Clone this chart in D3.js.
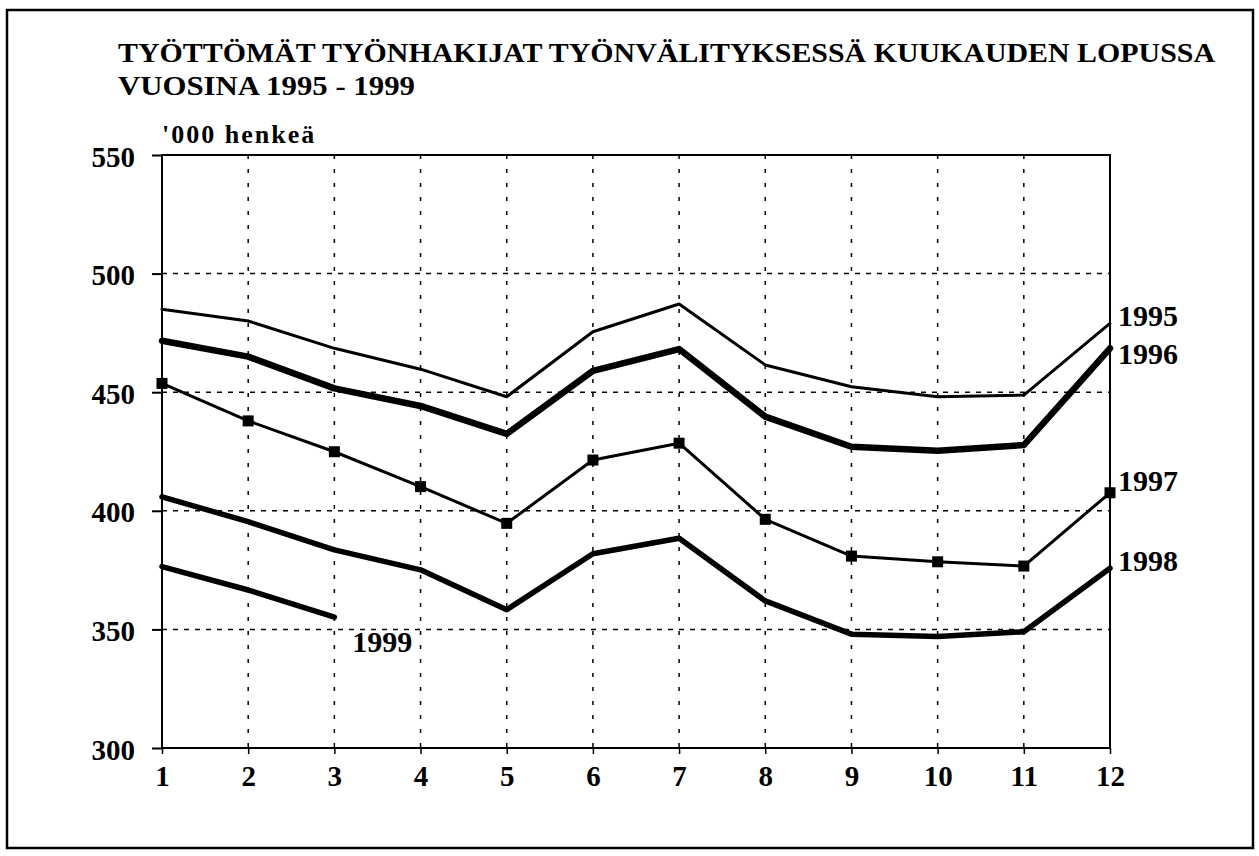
<!DOCTYPE html>
<html>
<head>
<meta charset="utf-8">
<script src="https://cdn.jsdelivr.net/npm/d3@7"></script>
<style>
  html, body { margin: 0; padding: 0; background: #fff; }
  svg { display: block; }
  text { font-family: "Liberation Serif", "Times New Roman", serif; font-weight: bold; fill: #000; }
</style>
</head>
<body>
<svg id="chart" width="1259" height="856"></svg>
<script>
// ---- data ----
const titleLines = ["TYÖTTÖMÄT TYÖNHAKIJAT TYÖNVÄLITYKSESSÄ KUUKAUDEN LOPUSSA", "VUOSINA 1995 - 1999"];
const unitLabel = "'000 henkeä";
const months = [1, 2, 3, 4, 5, 6, 7, 8, 9, 10, 11, 12];
const yTicks = [300, 350, 400, 450, 500, 550];
const s1995 = [485, 480, 468.5, 459.7, 448.1, 475.5, 487.2, 461.5, 452.3, 448.1, 448.8, 479];
const s1996 = [471.7, 465, 451.6, 444.2, 432.4, 459, 468.2, 439.7, 427, 425.3, 427.7, 468.5];
const s1997 = [453.7, 437.9, 424.9, 410.2, 394.7, 421.4, 428.5, 396.4, 380.9, 378.5, 376.7, 407.6];
const s1998 = [405.9, 395.4, 383.5, 375.1, 358.3, 381.9, 388.4, 362, 348, 347, 349, 375.8];
const s1999 = [376.5, 366.6, 355.2];
const seriesNames = ["1995", "1996", "1997", "1998", "1999"];

// ---- layout / style ----
const W = 1259, H = 856;
const plot = { left: 162, right: 1110, top: 155, bottom: 748 };
const styles = {
  "1995": { width: 3, marker: false, ldx: 8, ldy: -4 },
  "1996": { width: 6.5, marker: false, ldx: 8, ldy: 9 },
  "1997": { width: 3, marker: true, ldx: 8, ldy: -9 },
  "1998": { width: 5.5, marker: false, ldx: 8, ldy: -4 },
  "1999": { width: 5.5, marker: false, ldx: 18, ldy: 28 }
};

const svg = d3.select("#chart");
svg.append("rect").attr("x", 0).attr("y", 0).attr("width", W).attr("height", H).attr("fill", "#fff");
// outer frame
svg.append("rect").attr("x", 7).attr("y", 10).attr("width", 1246).attr("height", 838)
  .attr("fill", "none").attr("stroke", "#000").attr("stroke-width", 2.5);

// title
svg.append("text").attr("x", 118).attr("y", 62).attr("font-size", 28).text(titleLines[0])
  .attr("textLength", 1097).attr("lengthAdjust", "spacingAndGlyphs");
svg.append("text").attr("x", 118).attr("y", 95).attr("font-size", 28).text(titleLines[1])
  .attr("textLength", 297).attr("lengthAdjust", "spacingAndGlyphs");

// unit label
svg.append("text").attr("x", 162).attr("y", 143).attr("font-size", 26)
  .attr("letter-spacing", 2).text(unitLabel);

const x = d3.scaleLinear().domain([1, 12]).range([plot.left, plot.right]);
const y = d3.scaleLinear().domain([300, 550]).range([plot.bottom, plot.top]);

// grid
const g = svg.append("g");
g.selectAll("line.hg").data(yTicks.filter(v => v > 300 && v < 550)).join("line")
  .attr("x1", plot.left).attr("x2", plot.right)
  .attr("y1", d => y(d)).attr("y2", d => y(d))
  .attr("stroke", "#000").attr("stroke-width", 1.5).attr("stroke-dasharray", "5,6");
g.selectAll("line.vg").data(months.filter(m => m > 1 && m < 12)).join("line")
  .attr("x1", d => x(d)).attr("x2", d => x(d))
  .attr("y1", plot.top).attr("y2", plot.bottom)
  .attr("stroke", "#000").attr("stroke-width", 1.5).attr("stroke-dasharray", "4,10");

// plot box
svg.append("rect").attr("x", plot.left).attr("y", plot.top)
  .attr("width", plot.right - plot.left).attr("height", plot.bottom - plot.top)
  .attr("fill", "none").attr("stroke", "#000").attr("stroke-width", 2);

// axes
const yAxis = d3.axisLeft(y).tickValues(yTicks).tickSize(10).tickPadding(17);
const yG = svg.append("g").attr("transform", `translate(${plot.left},0)`).call(yAxis);
yG.select(".domain").remove();
yG.selectAll(".tick line").attr("stroke", "#000").attr("stroke-width", 2);
yG.selectAll(".tick text").attr("font-size", 29).attr("font-family", "Liberation Serif")
  .attr("font-weight", "bold").attr("fill", "#000").attr("dy", "0.38em");

const xAxis = d3.axisBottom(x).tickValues(months).tickFormat(d3.format("d")).tickSize(6).tickPadding(11);
const xG = svg.append("g").attr("transform", `translate(0,${plot.bottom})`).call(xAxis);
xG.select(".domain").remove();
xG.selectAll(".tick line").attr("stroke", "#000").attr("stroke-width", 1.5);
xG.selectAll(".tick text").attr("font-size", 29).attr("font-family", "Liberation Serif")
  .attr("font-weight", "bold").attr("fill", "#000").attr("dy", "0.71em");

// series
const allSeries = [s1995, s1996, s1997, s1998, s1999];
const line = d3.line().x((d, i) => x(months[i])).y(d => y(d));
allSeries.forEach((vals, k) => {
  const name = seriesNames[k];
  const st = styles[name];
  svg.append("path").datum(vals).attr("d", line)
    .attr("fill", "none").attr("stroke", "#000").attr("stroke-width", st.width)
    .attr("stroke-linejoin", "round").attr("stroke-linecap", "round");
  if (st.marker) {
    svg.selectAll(null).data(vals).join("rect")
      .attr("x", (d, i) => x(months[i]) - 5.5).attr("y", d => y(d) - 5.5)
      .attr("width", 11).attr("height", 11).attr("fill", "#000");
  }
  const li = vals.length - 1;
  svg.append("text").attr("x", x(months[li]) + st.ldx).attr("y", y(vals[li]) + st.ldy)
    .attr("font-size", 30).attr("dominant-baseline", "middle").text(name);
});
</script>
</body>
</html>
